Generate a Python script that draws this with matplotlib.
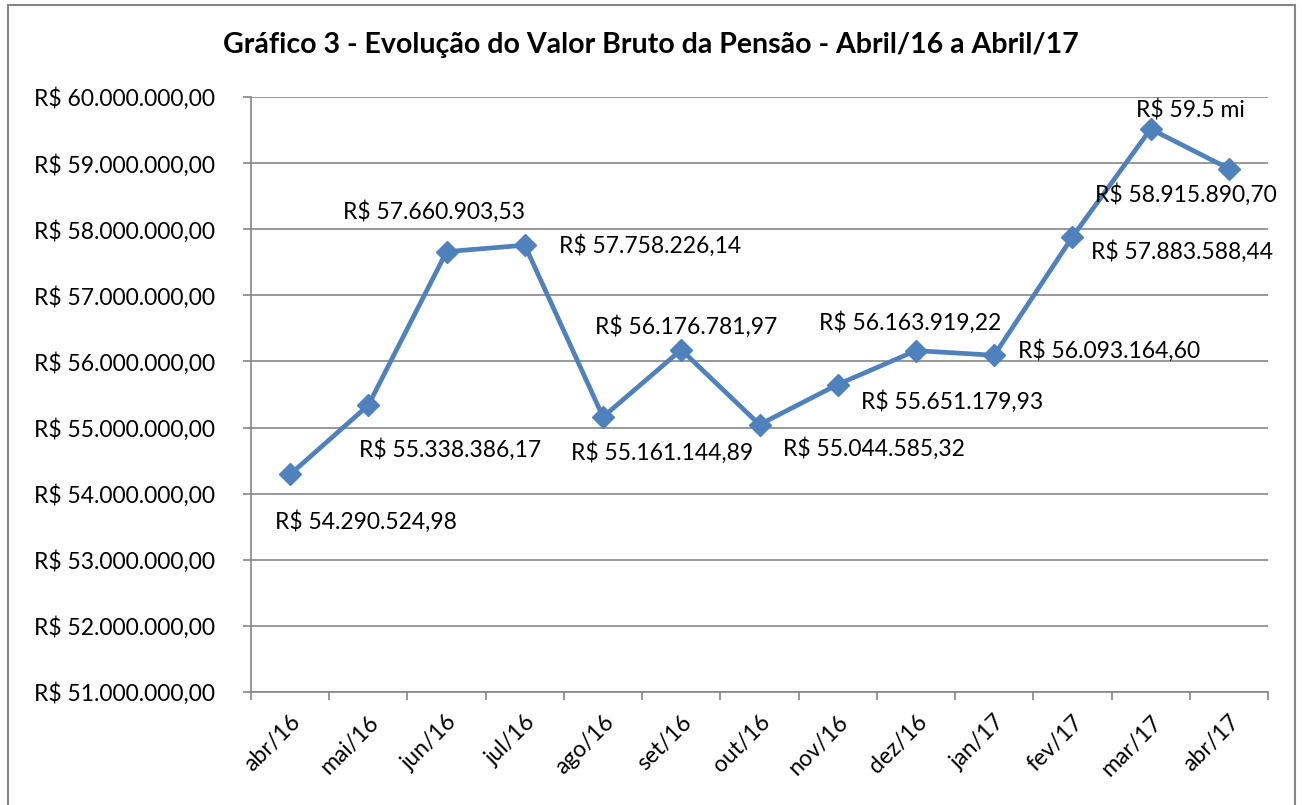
import matplotlib
matplotlib.use("Agg")
import matplotlib.pyplot as plt
from matplotlib.ticker import FuncFormatter, MultipleLocator
from matplotlib.patches import Rectangle

meses = ["abr/16", "mai/16", "jun/16", "jul/16", "ago/16", "set/16", "out/16",
         "nov/16", "dez/16", "jan/17", "fev/17", "mar/17", "abr/17"]
valores = [54290524.98, 55338386.17, 57660903.53, 57758226.14, 55161144.89,
           56176781.97, 55044585.32, 55651179.93, 56163919.22, 56093164.60,
           57883588.44, 59516000.00, 58915890.70]
rotulos_especiais = {"mar/17": "R$ 59.5 mi"}

# deslocamento (px) de cada rótulo em relação ao ponto
offsets = [(76, -47), (82, -44), (-13, 40), (125, 0), (59, -36), (5, 23),
           (114, -24), (114, -17), (-6, 28), (115, 5), (110, -15), (40, 18),
           (-43, -26)]

plt.rcParams["font.family"] = ["Lato", "DejaVu Sans"]
FS = 16.5


def brl(v, pos=None):
    s = f"{v:,.2f}"
    s = s.replace(",", "X").replace(".", ",").replace("X", ".")
    return f"R$ {s}"


fig = plt.figure(figsize=(13.02, 8.05), dpi=100)
fig.patches.append(Rectangle((8 / 1302, -0.01), 1287 / 1302, 1.0 - 5 / 805 + 0.01,
                             transform=fig.transFigure, fill=False,
                             edgecolor="#868686", linewidth=1.5))
ax = fig.add_axes([251 / 1302, 1 - 692 / 805, 1017 / 1302, 595 / 805])

x = list(range(len(meses)))
ax.plot(x, valores, color="#4F81BD", linewidth=3.4, marker="D", markersize=11,
        zorder=3)

for i, (m, v) in enumerate(zip(meses, valores)):
    txt = rotulos_especiais.get(m, brl(v))
    dx, dy = offsets[i]
    ax.annotate(txt, (i, v), xytext=(dx * 0.72, dy * 0.72), textcoords="offset points",
                ha="center", va="center", fontsize=FS, color="black", zorder=4)

ax.set_xlim(-0.5, len(meses) - 0.5)
ax.set_ylim(51000000, 60000000)
ax.yaxis.set_major_locator(MultipleLocator(1000000))
ax.yaxis.set_major_formatter(FuncFormatter(brl))
ax.grid(axis="y", color="#868686", linewidth=1.2)
ax.set_axisbelow(True)

ax.set_xticks(x)
ax.set_xticklabels(meses, rotation=45, ha="right", rotation_mode="anchor")
ax.set_xticks([i - 0.5 for i in range(len(meses) + 1)], minor=True)
ax.tick_params(axis="x", which="major", length=0, pad=14, labelsize=FS)
ax.tick_params(axis="x", which="minor", length=6, color="#868686", width=1.2)
ax.tick_params(axis="y", length=6, color="#868686", width=1.2, labelsize=FS, pad=20)

for lado in ["top", "right"]:
    ax.spines[lado].set_visible(False)
for lado in ["left", "bottom"]:
    ax.spines[lado].set_color("#868686")
    ax.spines[lado].set_linewidth(1.2)

fig.text(651 / 1302, 1 - 45 / 805,
         "Gráfico 3 - Evolução do Valor Bruto da Pensão - Abril/16 a Abril/17",
         ha="center", va="center", fontsize=20.5, fontweight="bold")

fig.savefig("out.png", dpi=100)
